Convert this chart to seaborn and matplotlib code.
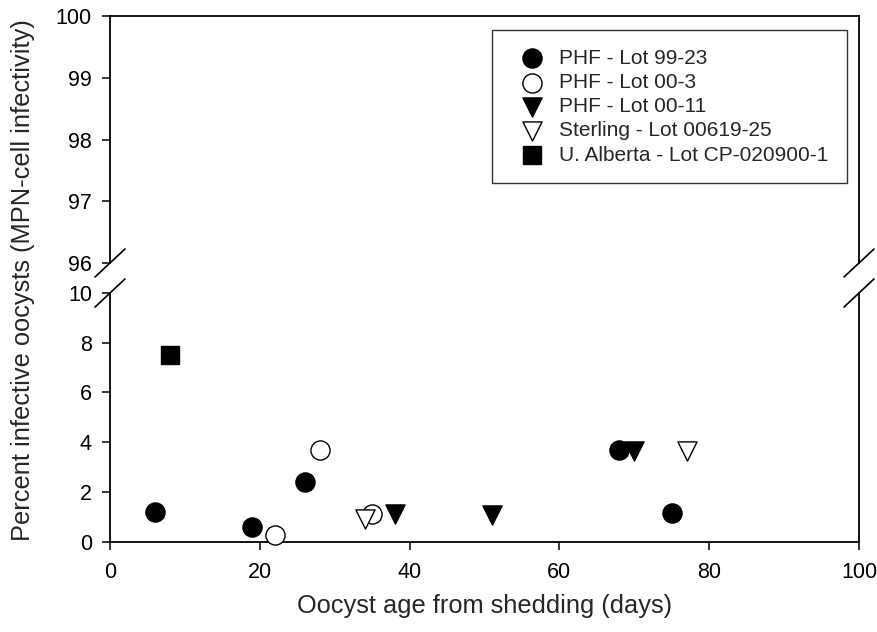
import matplotlib
matplotlib.use("Agg")
import matplotlib.pyplot as plt
import seaborn as sns
import pandas as pd

# ---- data ----
series_names = ["PHF - Lot 99-23", "PHF - Lot 00-3", "PHF - Lot 00-11",
                "Sterling - Lot 00619-25", "U. Alberta - Lot CP-020900-1"]
phf_9923_x = [6, 19, 26, 68, 75]
phf_9923_y = [1.2, 0.6, 2.4, 3.7, 1.15]
phf_003_x = [22, 28, 35]
phf_003_y = [0.27, 3.7, 1.1]
phf_0011_x = [38, 51, 70]
phf_0011_y = [1.1, 1.05, 3.65]
sterling_x = [34, 77]
sterling_y = [0.9, 3.65]
alberta_x = [8]
alberta_y = [7.5]

xticks = [0, 20, 40, 60, 80, 100]
yticks_low = [0, 2, 4, 6, 8, 10]
yticks_high = [96, 97, 98, 99, 100]

sns.set_theme(style="ticks")
plt.rcParams['font.family'] = ['Liberation Sans', 'DejaVu Sans']

fig = plt.figure(figsize=(8.78, 6.32), dpi=100)
L, R = 110 / 878, 859 / 878
ax_top = fig.add_axes([L, 1 - 263 / 632, R - L, (263 - 16) / 632])
ax_bot = fig.add_axes([L, 1 - 541.5 / 632, R - L, (541.5 - 293) / 632])

styles = [
    (phf_9923_x, phf_9923_y, "o", "black", 190),
    (phf_003_x, phf_003_y, "o", "white", 190),
    (phf_0011_x, phf_0011_y, "v", "black", 190),
    (sterling_x, sterling_y, "v", "white", 190),
    (alberta_x, alberta_y, "s", "black", 160),
]
for name, (xs, ys, m, fc, s) in zip(series_names, styles):
    df = pd.DataFrame({"x": xs, "y": ys})
    sns.scatterplot(data=df, x="x", y="y", marker=m, color=fc, edgecolor="black",
                    linewidth=1.0, s=s, label=name, ax=ax_bot, legend=False,
                    clip_on=False, zorder=3)

handles, labels = ax_bot.get_legend_handles_labels()
if ax_bot.get_legend() is not None:
    ax_bot.get_legend().remove()

for ax in (ax_top, ax_bot):
    ax.set_xlim(0, 100)
    for sp in ax.spines.values():
        sp.set_linewidth(1.3)
        sp.set_color("black")
    ax.tick_params(axis="both", direction="out", length=6, width=1.1,
                   labelsize=15.5, color="black", labelcolor="black")
    ax.tick_params(axis="x", pad=9)
    ax.tick_params(axis="y", pad=7)
    ax.set_xlabel("")
    ax.set_ylabel("")

ax_bot.set_ylim(0, 10)
ax_bot.set_yticks(yticks_low)
ax_bot.set_xticks(xticks)
ax_bot.spines["top"].set_visible(False)

ax_top.set_ylim(96, 100)
ax_top.set_yticks(yticks_high)
ax_top.set_xticks(xticks)
ax_top.tick_params(axis="x", bottom=False, labelbottom=False)
ax_top.spines["bottom"].set_visible(False)

# break marks
dx = 15 / 749
dyt = 14 / 247
kw = dict(color="black", lw=1.2, clip_on=False)
for xc in (0, 1):
    ax_top.plot([xc - dx, xc + dx], [-dyt, dyt], transform=ax_top.transAxes, **kw)
    ax_bot.plot([xc - dx, xc + dx], [1 - dyt, 1 + dyt], transform=ax_bot.transAxes, **kw)

leg = ax_top.legend(handles, labels, loc="upper right", bbox_to_anchor=(0.984, 0.943),
                    frameon=True, fancybox=False, fontsize=15, handletextpad=0.3,
                    borderpad=0.9, labelspacing=0.25, borderaxespad=0)
leg.get_frame().set_edgecolor("black")
leg.get_frame().set_linewidth(1.0)

fig.text((110 + 859) / 2 / 878, 1 - 606 / 632, "Oocyst age from shedding (days)",
         ha="center", va="center", fontsize=18.3)
fig.text(23 / 878, 1 - 280 / 632, "Percent infective oocysts (MPN-cell infectivity)",
         ha="center", va="center", rotation=90, fontsize=18.3)

fig.savefig("out.png", dpi=100)
